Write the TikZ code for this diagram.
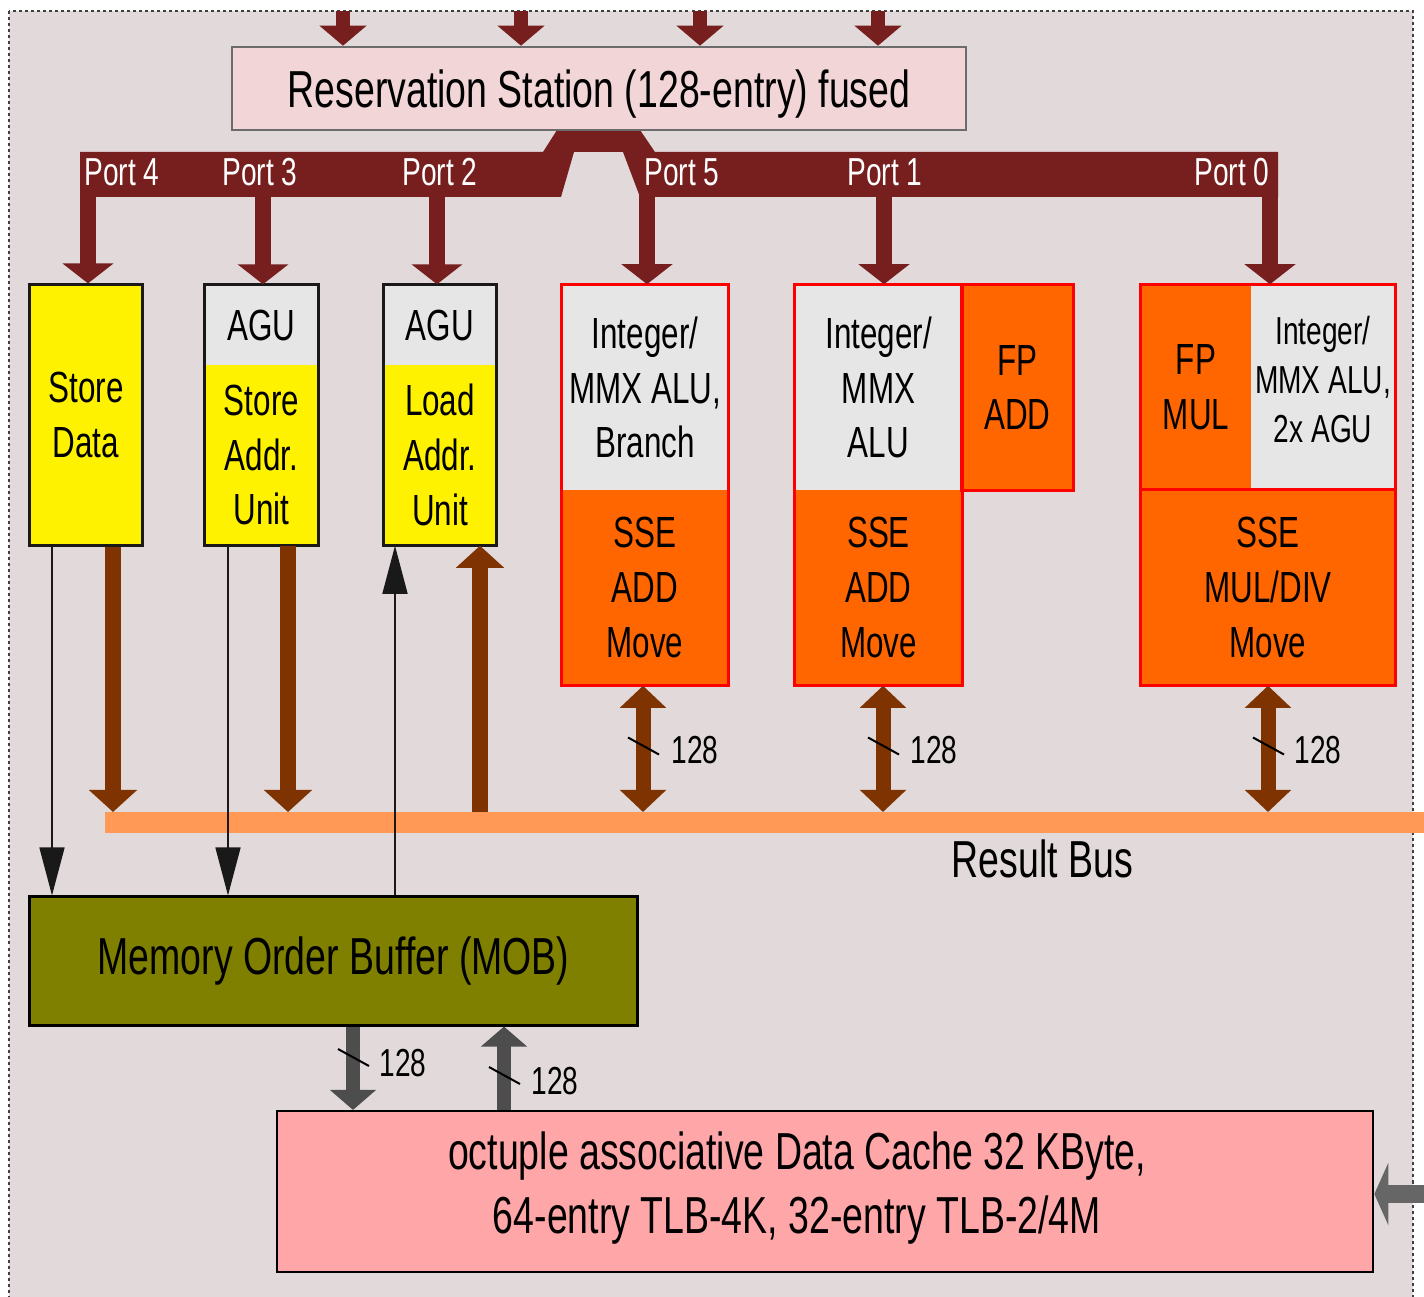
\documentclass[tikz,border=0pt]{standalone}
\usepackage{fontspec}
\setmainfont[FakeStretch=0.72]{Liberation Sans}
\usetikzlibrary{arrows.meta}
\definecolor{bgpink}{HTML}{E1D9DA}
\definecolor{rsfill}{HTML}{F2D5D7}
\definecolor{portred}{HTML}{771F1F}
\definecolor{brownbus}{HTML}{7F3300}
\definecolor{resultorange}{HTML}{FF9955}
\definecolor{unitgray}{HTML}{E6E6E6}
\definecolor{sseorange}{HTML}{FF6600}
\definecolor{mobolive}{HTML}{808000}
\definecolor{cachepink}{HTML}{FFA6A8}
\definecolor{memgray}{HTML}{4D4D4D}
\definecolor{ingray}{HTML}{666666}
\newcommand{\fbig}{\fontsize{14.8}{18.2}\selectfont}
\newcommand{\fmid}{\fontsize{12.4}{15.6}\selectfont}
\newcommand{\fsmall}{\fontsize{11.1}{13.9}\selectfont}
\tikzset{
	outerframe/.style={fill=bgpink, draw=black!75, line width=0.02cm, dash pattern=on 0.03cm off 0.03cm},
	rsbox/.style={draw=gray!85!black, line width=0.025cm, fill=rsfill, inner sep=0pt, font=\fbig},
	rsin/.style={portred, line width=0.14cm, -{Triangle[width=0.46cm,length=0.2cm]}},
	portstem/.style={portred, line width=0.16cm, -{Triangle[width=0.5cm,length=0.2cm]}},
	portlabel/.style={text=white, font=\fsmall, inner sep=0pt},
	part/.style={inner sep=0pt, align=center, font=\fmid},
	agupart/.style={part, fill=unitgray},
	yelpart/.style={part, fill=yellow},
	intpart/.style={part, fill=unitgray},
	ssepart/.style={part, fill=sseorange},
	blackframe/.style={draw=black!90, line width=0.03cm},
	redframe/.style={draw=red, line width=0.03cm},
	resbus/.style={resultorange, line width=0.21cm},
	wbarrow/.style={brownbus, line width=0.16cm, -{Triangle[width=0.47cm,length=0.22cm]}},
	wbdouble/.style={brownbus, line width=0.15cm, {Triangle[width=0.45cm,length=0.22cm]}-{Triangle[width=0.45cm,length=0.22cm]}},
	thinarrow/.style={black!90, line width=0.015cm, -{Triangle[width=0.25cm,length=0.48cm]}},
	slash/.style={black, line width=0.02cm},
	widthlabel/.style={font=\fsmall, inner sep=0pt, anchor=west},
	memarrow/.style={memgray, line width=0.14cm, -{Triangle[width=0.45cm,length=0.2cm]}},
	cachein/.style={ingray, line width=0.18cm, -{Triangle[width=0.62cm,length=0.14cm]}},
	mobbox/.style={fill=mobolive, draw=black, line width=0.03cm, font=\fbig, inner sep=0pt},
	cachebox/.style={fill=cachepink, draw=black, line width=0.02cm, inner sep=0pt}
}

\begin{document}
\begin{tikzpicture}[x=0.01cm, y=-0.01cm]
\useasboundingbox (0,0) rectangle (1424,1297);
\clip (0,0) rectangle (1424,1297);
\fill[white] (0,0) rectangle (1424,1297);
\draw[outerframe] (9,11) rectangle (1413,1330);

% reservation station and port bus
\fill[portred] (80,152) -- (543,152) -- (557,130) -- (640,130) -- (655,152) -- (1278,152) -- (1278,197)
  -- (640,197) -- (623,152) -- (574,152) -- (561,197) -- (80,197) -- cycle;
\node[rsbox, text depth=0pt, minimum width=7.34cm, minimum height=0.83cm] (rs) at (599,88.5) {Reservation Station (128-entry) fused};
\foreach \x [count=\i] in {343,521,700,878}
  \coordinate (in\i) at (\x,11);
\foreach \i in {1,...,4}
  \draw[rsin] (in\i) -- (in\i |- rs.north);

\node[portlabel] (lp4) at (122,172) {Port 4};
\node[portlabel] (lp3) at (260,172) {Port 3};
\node[portlabel] (lp2) at (440,172) {Port 2};
\node[portlabel] (lp5) at (682,172) {Port 5};
\node[portlabel] (lp1) at (885,172) {Port 1};
\node[portlabel] (lp0) at (1232,172) {Port 0};

% execution units
\node[yelpart, blackframe, minimum width=1.12cm, minimum height=2.6cm] (sd) at (86,415) {Store\\Data};

\node[agupart, minimum width=1.13cm, minimum height=0.8cm] (saagu) at (261.5,325) {AGU};
\node[yelpart, minimum width=1.13cm, minimum height=1.8cm] (sau) at (261.5,455) {Store\\Addr.\\Unit};
\draw[blackframe] (saagu.north west) rectangle (sau.south east);

\node[agupart, minimum width=1.12cm, minimum height=0.8cm] (laagu) at (440,325) {AGU};
\node[yelpart, minimum width=1.12cm, minimum height=1.8cm] (lau) at (440,455) {Load\\Addr.\\Unit};
\draw[blackframe] (laagu.north west) rectangle (lau.south east);

\node[intpart, minimum width=1.66cm, minimum height=2.05cm] (alu5) at (645,387.5) {Integer/\\MMX ALU,\\Branch};
\node[ssepart, minimum width=1.66cm, minimum height=1.95cm] (sse5) at (645,587.5) {SSE\\ADD\\Move};
\draw[redframe] (alu5.north west) rectangle (sse5.south east);

\node[intpart, minimum width=1.67cm, minimum height=2.05cm] (alu1) at (878.5,387.5) {Integer/\\MMX\\ALU};
\node[ssepart, minimum width=1.67cm, minimum height=1.95cm] (sse1) at (878.5,587.5) {SSE\\ADD\\Move};
\node[ssepart, minimum width=1.11cm, minimum height=2.05cm] (fpadd) at (1017.5,387.5) {FP\\ADD};
\draw[redframe] (alu1.north west) rectangle (sse1.south east);
\draw[redframe] (fpadd.north west) rectangle (fpadd.south east);

\node[ssepart, minimum width=1.10cm, minimum height=2.05cm] (fpmul) at (1196,387.5) {FP\\MUL};
\node[intpart, font=\fsmall, text depth=0.16cm, minimum width=1.44cm, minimum height=2.05cm] (alu0) at (1323,387.5) {Integer/\\MMX ALU,\\2x AGU};
\node[ssepart, minimum width=2.54cm, minimum height=1.95cm] (sse0) at (1268,587.5) {SSE\\MUL/DIV\\Move};
\draw[redframe] (fpmul.north west) rectangle (sse0.south east);
\draw[redframe] (sse0.north west) -- (sse0.north east);

\coordinate (s4) at (88,190);
\coordinate (s3) at (263,190);
\coordinate (s2) at (437,190);
\coordinate (s5) at (647,190);
\coordinate (s1) at (884,190);
\coordinate (s0) at (1270,190);
\draw[portstem] (s4) -- (s4 |- sd.north);
\draw[portstem] (s3) -- (s3 |- saagu.north);
\draw[portstem] (s2) -- (s2 |- laagu.north);
\draw[portstem] (s5) -- (s5 |- alu5.north);
\draw[portstem] (s1) -- (s1 |- alu1.north);
\draw[portstem] (s0) -- (s0 |- fpmul.north);

% result bus
\coordinate (rbw) at (105,822.5);
\coordinate (rbe) at (1430,822.5);
\draw[resbus] (rbw) -- (rbe);
\node[font=\fbig, anchor=west, inner sep=0pt] (rblabel) at (951,859) {Result Bus};

\coordinate (b1) at (113,812);
\coordinate (b2) at (288,812);
\coordinate (b3) at (480,812);
\coordinate (b5) at (643,812);
\coordinate (b6) at (883,812);
\coordinate (b7) at (1268,812);
\draw[wbarrow] (b1 |- sd.south) -- (b1);
\draw[wbarrow] (b2 |- sau.south) -- (b2);
\draw[wbarrow] (b3) -- (b3 |- lau.south);
\draw[wbdouble] (b5 |- sse5.south) -- (b5);
\draw[wbdouble] (b6 |- sse1.south) -- (b6);
\draw[wbdouble] (b7 |- sse0.south) -- (b7);

\coordinate (w5) at (643,745.5);
\coordinate (w1) at (883,745.5);
\coordinate (w0) at (1268,745.5);
\draw[slash] (w5) ++(-15,-8) -- ++(31,17);
\draw[slash] (w1) ++(-15,-8) -- ++(31,17);
\draw[slash] (w0) ++(-15,-8) -- ++(31,17);
\node[widthlabel] (n5) at (671,750) {128};
\node[widthlabel] (n1) at (910,750) {128};
\node[widthlabel] (n0) at (1294,750) {128};

% memory order buffer and data cache
\node[mobbox, minimum width=6.07cm, minimum height=1.28cm] (mob) at (333.5,961) {Memory Order Buffer (MOB)};

\coordinate (t1) at (52,700);
\coordinate (t2) at (228,700);
\coordinate (t3) at (395,700);
\draw[thinarrow] (t1 |- sd.south) -- (t1 |- mob.north);
\draw[thinarrow] (t2 |- sau.south) -- (t2 |- mob.north);
\draw[thinarrow] (t3 |- mob.north) -- (t3 |- lau.south);

\node[cachebox, minimum width=10.96cm, minimum height=1.61cm] (cache) at (825,1191.5) {};
\node[font=\fbig, align=center, inner sep=0pt] (cachetext) at (797,1188) {octuple associative Data Cache 32 KByte,\\64-entry TLB-4K, 32-entry TLB-2/4M};

\coordinate (m1) at (353,1057);
\coordinate (m2) at (504,1075);
\draw[memarrow] (m1 |- mob.south) -- (m1 |- cache.north);
\draw[memarrow] (m2 |- cache.north) -- (m2 |- mob.south);
\draw[slash] (m1) ++(-15,-8) -- ++(31,17);
\draw[slash] (m2) ++(-15,-8) -- ++(31,17);
\node[widthlabel] (nm1) at (379,1063) {128};
\node[widthlabel] (nm2) at (531,1081) {128};

\coordinate (cin) at (1430,1194);
\draw[cachein] (cin) -- (cin -| cache.east);
\end{tikzpicture}
\end{document}
